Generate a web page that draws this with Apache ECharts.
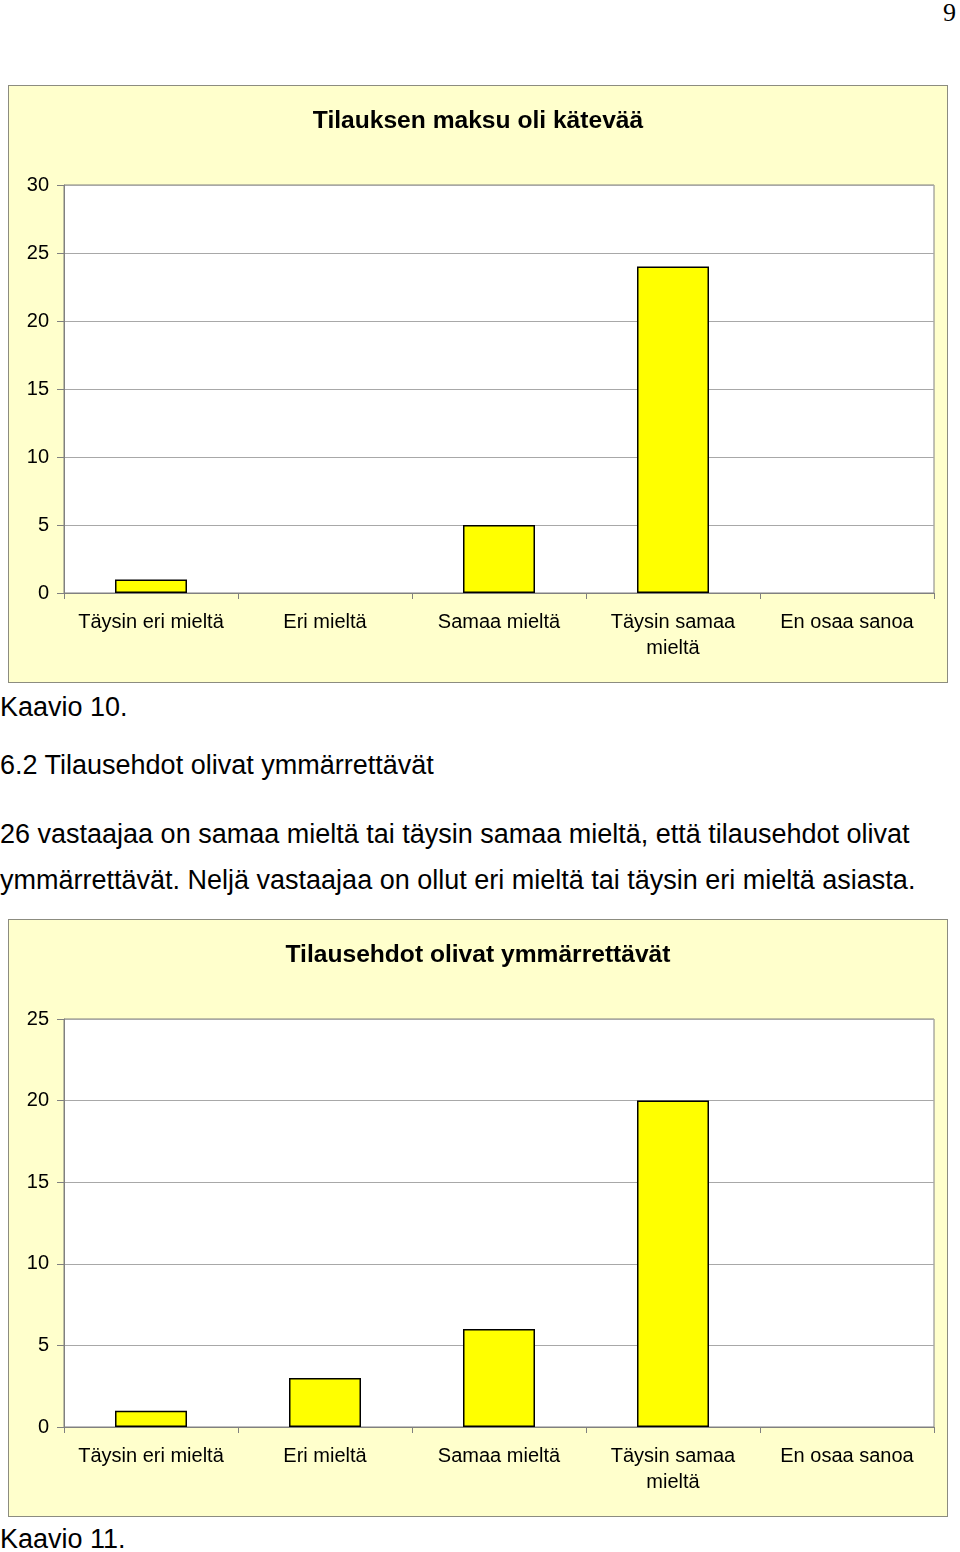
<!DOCTYPE html>
<html><head><meta charset="utf-8">
<script src="https://cdn.jsdelivr.net/npm/echarts@6/dist/echarts.min.js"></script>
<style>
html,body{margin:0;padding:0;background:#fff;}
body{width:960px;height:1552px;position:relative;font-family:"Liberation Sans",Arial,sans-serif;color:#000;overflow:hidden;}
.t{position:absolute;left:0;font-size:27px;line-height:30px;white-space:nowrap;}
.chart{position:absolute;left:8px;width:938px;height:596px;border:1px solid #8c8c80;background:#ffffcc;}
</style></head>
<body>
<div class="t" style="left:943px;top:-2px;font-family:'Liberation Serif','DejaVu Serif',serif;font-size:26px;">9</div>
<div id="c1" class="chart" style="top:85px;"></div>
<div class="t" style="top:692px;">Kaavio 10.</div>
<div class="t" style="top:750px;">6.2 Tilausehdot olivat ymmärrettävät</div>
<div class="t" style="top:819px;">26 vastaajaa on samaa mieltä tai täysin samaa mieltä, että tilausehdot olivat</div>
<div class="t" style="top:865px;">ymmärrettävät. Neljä vastaajaa on ollut eri mieltä tai täysin eri mieltä asiasta.</div>
<div id="c2" class="chart" style="top:919px;"></div>
<div class="t" style="top:1524px;">Kaavio 11.</div>
<script>
const categories = ["Täysin eri mieltä", "Eri mieltä", "Samaa mieltä", "Täysin samaa\nmieltä", "En osaa sanoa"];
const title1 = "Tilauksen maksu oli kätevää";
const values1 = [1, 0, 5, 24, 0];
const yMax1 = 30;
const title2 = "Tilausehdot olivat ymmärrettävät";
const values2 = [1, 3, 6, 20, 0];
const yMax2 = 25;
const yInterval = 5;

function makeOption(title, values, yMax) {
  return {
    animation: false,
    textStyle: {fontFamily: "Liberation Sans, Arial, sans-serif"},
    title: {
      text: title, left: 'center', top: 18,
      textStyle: {fontSize: 24.6, fontWeight: 'bold', color: '#000', fontFamily: "Liberation Sans, Arial, sans-serif"}
    },
    grid: {left: 55, top: 99, width: 870, height: 408, show: true, backgroundColor: '#ffffff', borderColor: '#808080', borderWidth: 1},
    xAxis: {
      type: 'category', data: categories, boundaryGap: true,
      axisLine: {show: true, lineStyle: {color: '#808080', width: 1}},
      axisTick: {show: true, length: 6, alignWithLabel: false, lineStyle: {color: '#808080'}},
      axisLabel: {fontSize: 20, color: '#000', margin: 16, lineHeight: 26, interval: 0}
    },
    yAxis: {
      type: 'value', min: 0, max: yMax, interval: yInterval,
      axisLine: {show: true, lineStyle: {color: '#808080'}},
      axisTick: {show: true, length: 7, lineStyle: {color: '#808080'}},
      axisLabel: {fontSize: 20, color: '#000', margin: 15},
      splitLine: {show: true, lineStyle: {color: '#a8a8a8', width: 1}}
    },
    series: [{
      type: 'bar', data: values.map(v => v === 0 ? '-' : v), barWidth: 72,
      itemStyle: {color: '#ffff00', borderColor: '#000', borderWidth: 1.5}
    }]
  };
}
echarts.init(document.getElementById('c1'), null, {renderer: 'canvas'}).setOption(makeOption(title1, values1, yMax1));
echarts.init(document.getElementById('c2'), null, {renderer: 'canvas'}).setOption(makeOption(title2, values2, yMax2));
</script>
</body></html>
